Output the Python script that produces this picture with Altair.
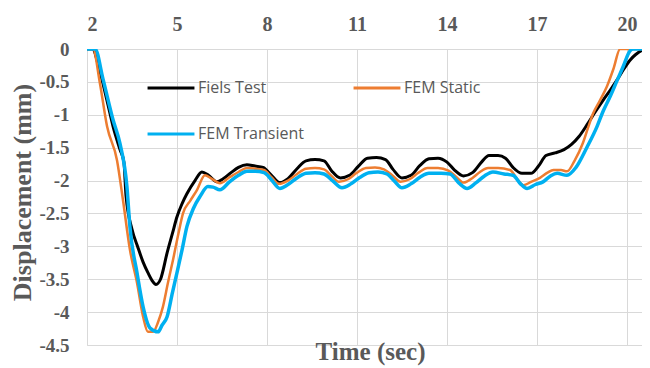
import altair as alt
import pandas as pd

series_names = ["Fiels Test", "FEM Static", "FEM Transient"]
series_colors = ["#000000", "#ED7D31", "#00B0F0"]

field_x = [2.0, 2.2, 2.35, 2.53, 2.7, 2.87, 3.1, 3.23, 3.3, 3.5, 3.7, 3.87, 4.03, 4.17, 4.3,
           4.45, 4.67, 4.85, 5.0, 5.17, 5.33, 5.6, 5.83, 6.05, 6.33, 6.55, 6.8, 7.05, 7.33,
           7.6, 7.87, 8.15, 8.43, 8.7, 9.0, 9.3, 9.6, 9.9, 10.15, 10.45, 10.75, 11.05,
           11.35, 11.65, 11.95, 12.2, 12.5, 12.8, 13.1, 13.4, 13.7, 14.0, 14.25, 14.55,
           14.85, 15.15, 15.4, 15.7, 15.95, 16.2, 16.5, 16.8, 17.05, 17.3, 17.6, 17.9,
           18.15, 18.4, 18.67, 18.95, 19.2, 19.45, 19.67, 19.9, 20.1, 20.3, 20.5, 20.77]
field_y = [0.0, 0.0, -0.2, -0.52, -0.85, -1.18, -1.53, -1.72, -2.23, -2.74, -3.02, -3.24,
           -3.4, -3.52, -3.58, -3.5, -3.1, -2.8, -2.55, -2.35, -2.2, -2.0, -1.87, -1.92,
           -2.02, -1.97, -1.88, -1.8, -1.76, -1.78, -1.8, -1.92, -2.03, -1.97, -1.82, -1.7,
           -1.68, -1.7, -1.85, -1.96, -1.92, -1.78, -1.66, -1.65, -1.68, -1.83, -1.96,
           -1.92, -1.77, -1.67, -1.66, -1.72, -1.84, -1.93, -1.88, -1.72, -1.62, -1.62,
           -1.66, -1.8, -1.89, -1.89, -1.78, -1.62, -1.58, -1.53, -1.45, -1.33, -1.15,
           -0.95, -0.78, -0.62, -0.47, -0.3, -0.17, -0.08, -0.02, 0.0]

static_x = [2.0, 2.2, 2.43, 2.67, 3.0, 3.2, 3.43, 3.67, 3.87, 4.03, 4.2, 4.37, 4.53, 4.7,
            4.87, 5.05, 5.2, 5.45, 5.67, 5.93, 6.15, 6.43, 6.75, 7.05, 7.33, 7.6, 7.9, 8.15,
            8.4, 8.7, 9.0, 9.3, 9.6, 9.9, 10.15, 10.4, 10.7, 11.0, 11.3, 11.6, 11.9, 12.2,
            12.45, 12.75, 13.05, 13.35, 13.7, 14.05, 14.3, 14.55, 14.85, 15.1, 15.37, 15.7,
            16.1, 16.35, 16.55, 16.8, 17.1, 17.35, 17.55, 17.8, 18.0, 18.25, 18.53, 18.7,
            18.87, 19.1, 19.33, 19.55, 19.77, 20.77]
static_y = [0.0, 0.0, -0.52, -1.18, -1.69, -2.3, -3.05, -3.56, -4.07, -4.3, -4.3, -4.15,
            -3.92, -3.55, -3.2, -2.8, -2.5, -2.3, -2.14, -1.92, -1.97, -2.04, -1.95, -1.87,
            -1.81, -1.82, -1.84, -1.95, -2.05, -2.0, -1.9, -1.82, -1.81, -1.83, -1.93,
            -2.02, -1.98, -1.88, -1.81, -1.8, -1.83, -1.93, -2.02, -1.98, -1.88, -1.81,
            -1.81, -1.85, -1.94, -2.03, -1.96, -1.87, -1.81, -1.81, -1.84, -1.98, -2.07,
            -2.02, -1.96, -1.88, -1.84, -1.84, -1.86, -1.7, -1.43, -1.2, -0.98, -0.78,
            -0.57, -0.3, 0.0, 0.0]

trans_x = [2.0, 2.27, 2.53, 2.87, 3.1, 3.33, 3.43, 3.67, 3.87, 4.1, 4.37, 4.5, 4.67, 4.85,
           5.0, 5.17, 5.33, 5.55, 5.77, 6.03, 6.2, 6.43, 6.75, 7.05, 7.33, 7.6, 7.9, 8.15,
           8.43, 8.7, 9.0, 9.3, 9.6, 9.9, 10.2, 10.5, 10.8, 11.1, 11.4, 11.7, 12.0, 12.25,
           12.5, 12.8, 13.1, 13.4, 13.8, 14.1, 14.4, 14.67, 14.95, 15.25, 15.53, 15.9,
           16.2, 16.45, 16.67, 16.95, 17.2, 17.45, 17.67, 18.0, 18.3, 18.67, 19.0, 19.2,
           19.43, 19.65, 19.87, 20.1, 20.2, 20.77]
trans_y = [0.0, 0.0, -0.45, -1.08, -1.44, -2.09, -2.7, -3.41, -3.92, -4.24, -4.3, -4.2,
           -4.07, -3.7, -3.4, -3.05, -2.7, -2.42, -2.24, -2.09, -2.1, -2.14, -2.02, -1.92,
           -1.86, -1.86, -1.88, -1.99, -2.12, -2.06, -1.96, -1.89, -1.88, -1.9, -2.01,
           -2.11, -2.05, -1.95, -1.88, -1.87, -1.9, -2.01, -2.11, -2.05, -1.95, -1.89,
           -1.89, -1.9, -2.04, -2.12, -2.04, -1.93, -1.87, -1.9, -1.92, -2.05, -2.12,
           -2.06, -2.02, -1.93, -1.89, -1.92, -1.8, -1.49, -1.18, -0.95, -0.73, -0.5,
           -0.27, -0.03, 0.0, 0.0]

x_ticks = [2, 5, 8, 11, 14, 17, 20]
y_ticks = [0, -0.5, -1, -1.5, -2, -2.5, -3, -3.5, -4, -4.5]

frames = []
for name, xs, ys in [(series_names[0], field_x, field_y),
                     (series_names[1], static_x, static_y),
                     (series_names[2], trans_x, trans_y)]:
    frames.append(pd.DataFrame({"time": xs, "disp": ys, "series": name}))
df = pd.concat(frames, ignore_index=True)

gray = "#595959"
serif = "Liberation Serif"

x_enc = alt.X("time:Q",
              scale=alt.Scale(domain=[2, 20.5], nice=False, zero=False),
              axis=alt.Axis(orient="top", values=x_ticks, title=None,
                            labelExpr="toString(datum.value)",
                            labelFont=serif, labelFontSize=20, labelFontWeight="bold",
                            labelColor=gray, labelPadding=15, ticks=False, domain=False,
                            grid=True, gridColor="#d9d9d9", gridWidth=1))
y_enc = alt.Y("disp:Q",
              scale=alt.Scale(domain=[-4.5, 0], nice=False, zero=False),
              axis=alt.Axis(values=y_ticks, title="Displacement (mm)",
                            labelExpr="toString(datum.value)",
                            labelFont=serif, labelFontSize=19, labelFontWeight="bold",
                            labelColor=gray, labelPadding=18, ticks=False, domain=False,
                            grid=True, gridColor="#d9d9d9", gridWidth=1,
                            titleFont=serif, titleFontSize=26, titleFontWeight="bold",
                            titleColor=gray, titleX=-65, titleY=143, titleAngle=270,
                            titleAlign="center", titleBaseline="middle"))
color_enc = alt.Color("series:N",
                      scale=alt.Scale(domain=series_names, range=series_colors),
                      legend=alt.Legend(orient="none", legendX=59, legendY=14,
                                        direction="horizontal",
                                        columns=2, title=None, symbolType="stroke",
                                        symbolSize=2200, symbolStrokeWidth=3,
                                        labelFont="Open Sans", labelFontSize=16,
                                        labelColor=gray, labelOffset=2,
                                        columnPadding=43, rowPadding=13, padding=0))

widths = [3, 2.5, 3.5]
layers = []
for name, w in zip(series_names, widths):
    layers.append(
        alt.Chart(df).transform_filter(alt.datum.series == name)
        .mark_line(strokeWidth=w, interpolate="monotone", clip=True)
        .encode(x=x_enc, y=y_enc, color=color_enc)
    )

chart = alt.layer(*layers).properties(
    width=555, height=296,
    autosize=alt.AutoSizeParams(type="none"),
    padding={"left": 79, "top": 41, "right": 0, "bottom": 22},
    title=alt.TitleParams("Time (sec)", orient="bottom", anchor="middle", frame="group",
                          font=serif, fontSize=25, fontWeight="bold", color=gray,
                          offset=-15, dx=6),
).configure_view(stroke=None).configure(background="white")

chart.save("out.html", embed_options={"renderer": "svg", "actions": False})
